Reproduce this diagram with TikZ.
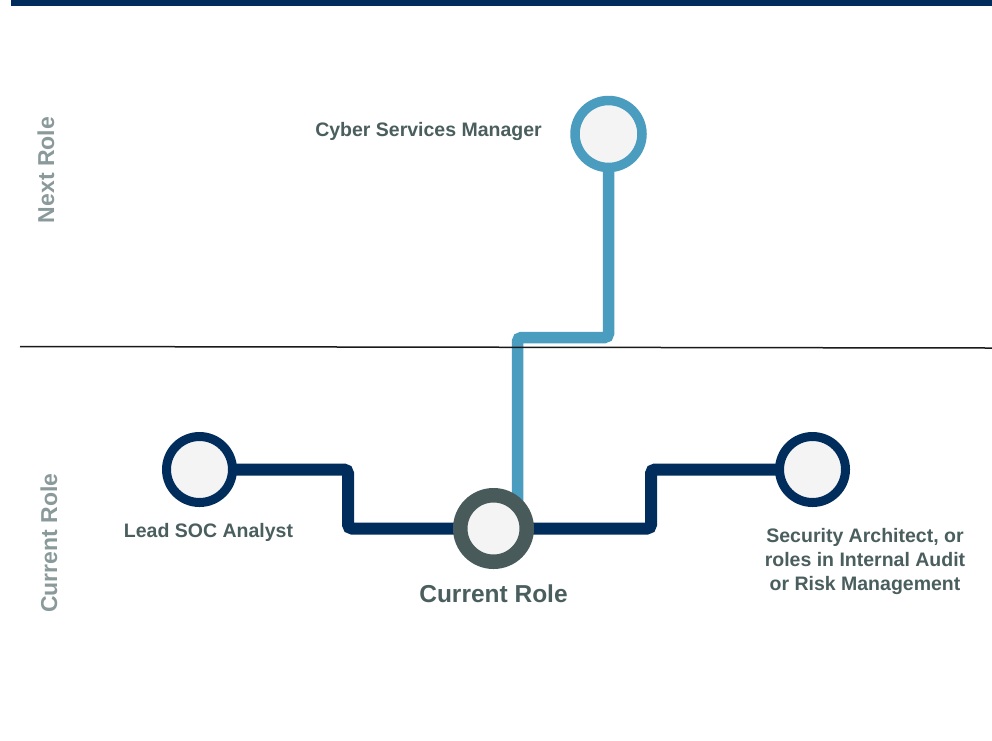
\documentclass[tikz,border=0pt]{standalone}
\usepackage{fontspec}
\setmainfont{Liberation Sans}
\usetikzlibrary{backgrounds}
\pgfdeclarelayer{paper}
\pgfsetlayers{paper,background,main}
\definecolor{navy}{HTML}{002D5C}
\definecolor{skyblue}{HTML}{4A9DBF}
\definecolor{slate}{HTML}{485A5A}
\definecolor{ringfill}{HTML}{F4F4F4}
\definecolor{labeltext}{HTML}{4B5E5E}
\definecolor{sidetext}{HTML}{8A9A9A}
\tikzset{
  rolecircle/.style={circle, inner sep=0pt, minimum size=66pt, line width=9pt, fill=ringfill},
  navyline/.style={draw=navy, line width=12pt, rounded corners=4pt},
  blueline/.style={draw=skyblue, line width=11.5pt, rounded corners=4pt},
  rolelabel/.style={text=labeltext, font=\bfseries\fontsize{19.5}{24}\selectfont, inner sep=0pt},
  sidelabel/.style={text=sidetext, font=\bfseries\fontsize{23}{27}\selectfont, inner sep=0pt, rotate=90, anchor=base},
}
\begin{document}
\begin{tikzpicture}[x=1pt, y=-1pt]
\begin{pgfonlayer}{paper}
\fill[white] (0,0) rectangle (992,740);
\end{pgfonlayer}
\useasboundingbox (0,0) rectangle (992,740);
% top bar
\fill[navy] (11,0) rectangle (992,6);
% divider
\draw[line width=1.5pt, black!90] (20,346.5) -- (992,348);
% side labels
\node[sidelabel] (sideNext) at (54,170) {Next Role};
\node[sidelabel] (sideCur) at (57,543) {Current Role};
% role circles
\node[rolecircle, draw=skyblue, line width=9.5pt, minimum size=67pt] (next) at (608.5,134) {};
\node[rolecircle, draw=navy] (lead) at (199.5,469.5) {};
\node[rolecircle, draw=navy] (right) at (812.5,469.5) {};
\node[rolecircle, draw=slate, line width=14.5pt, minimum size=66.5pt] (cur) at (493.5,528.5) {};
% connectors
\begin{pgfonlayer}{background}
\draw[blueline] (next.center) -- (608.5,337.5) -- (517.5,337.5) -- (517.5,0 |- cur.center);
\draw[navyline] (lead.center) -- (348,469.5) -- (348,528.5) -- (cur.center);
\draw[navyline] (cur.center) -- (651,528.5) -- (651,469.5) -- (right.center);
\end{pgfonlayer}
% labels
\node[rolelabel, anchor=base east] (lblNext) at (542,136) {Cyber Services Manager};
\node[rolelabel, anchor=base] (lblLead) at (208.5,537) {Lead SOC Analyst};
\node[rolelabel, anchor=base, font=\bfseries\fontsize{24.5}{29}\selectfont] (lblCur) at (493.5,602) {Current Role};
\node[rolelabel, align=center, anchor=center] (lblRight) at (865,561) {Security Architect, or\\roles in Internal Audit\\or Risk Management};
\end{tikzpicture}
\end{document}
